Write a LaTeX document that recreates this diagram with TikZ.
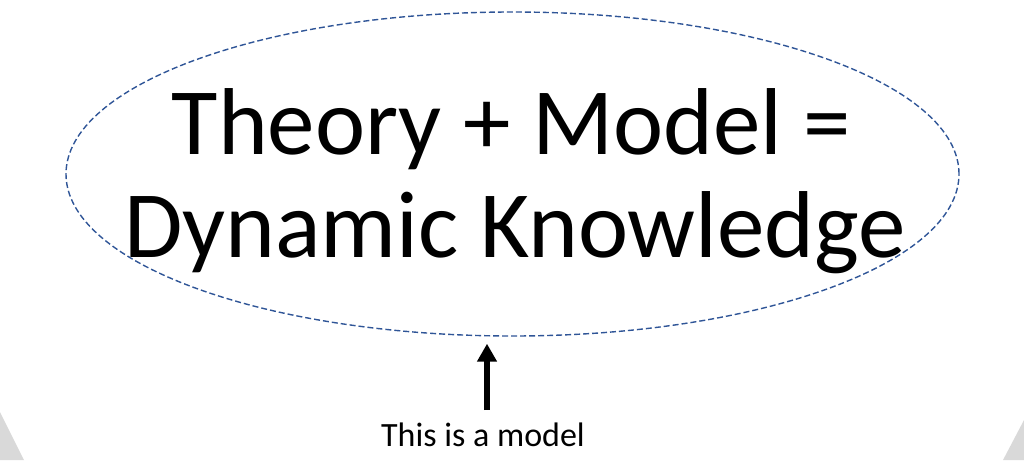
\documentclass[tikz,border=0pt]{standalone}
\usepackage{fontspec}
\setmainfont{Carlito}
\usetikzlibrary{arrows.meta,shapes.geometric}
\definecolor{ellblue}{HTML}{2F5597}
\definecolor{cornergray}{HTML}{D9D9D9}
\tikzset{
  bigtext/.style={font=\fontsize{95}{103}\selectfont, inner sep=0pt, anchor=base},
  smalltext/.style={font=\fontsize{34}{40}\selectfont, inner sep=0pt, anchor=base},
  modelell/.style={draw=ellblue, line width=1.4pt, dash pattern=on 6pt off 3pt, ellipse, minimum width=893pt, minimum height=324pt, inner sep=0pt},
  uparrow/.style={-{Triangle[length=18pt,width=19pt]}, line width=5.5pt, shorten >=7pt}
}
\begin{document}
\begin{tikzpicture}[x=1pt,y=-1pt]
\useasboundingbox (0,0) rectangle (1024,460);
\fill[cornergray] (0,412) -- (24,460) -- (0,460) -- cycle;
\fill[cornergray] (1024,420) -- (1003,460) -- (1024,460) -- cycle;
\node[modelell] (ell) at (512.5,174) {};
\node[bigtext] (l1) at (511.5,154) {Theory + Model =};
\node[bigtext] (l2) at (515,257) {Dynamic Knowledge};
\node[smalltext] (cap) at (483,446) {This is a model};
\coordinate (tail) at (487,410);
\draw[uparrow] (tail) -- (ell.south -| tail);
\end{tikzpicture}
\end{document}
